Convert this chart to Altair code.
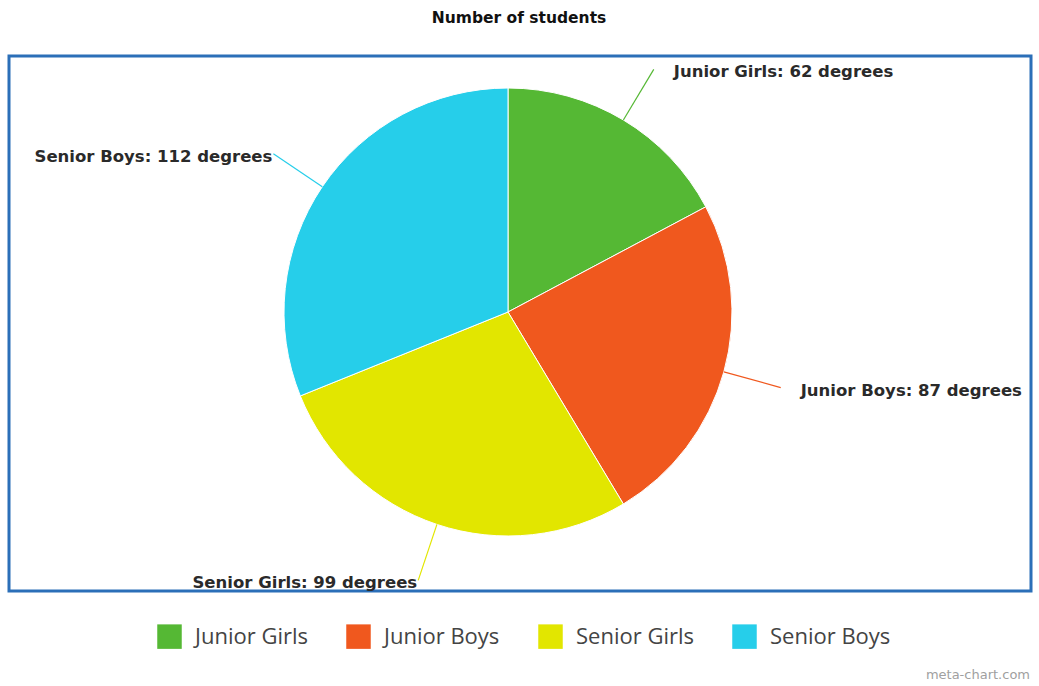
import altair as alt
import pandas as pd

categories = ["Junior Girls", "Junior Boys", "Senior Girls", "Senior Boys"]
degrees = [62, 87, 99, 112]
colors = ["#55B834", "#F0581E", "#E2E600", "#26CEEA"]

title_text = ["Number of students"]
watermark = ["meta-chart.com"]

CX, CY = 508, 312
R_PIE = 224
R_LABEL = 283

df = pd.DataFrame({"category": categories, "value": degrees, "idx": list(range(len(categories)))})

base = alt.Chart(df)

pie = base.mark_arc(radius=R_PIE, stroke="white", strokeWidth=1).encode(
    theta=alt.Theta("value:Q", stack=True),
    color=alt.Color(
        "category:N",
        scale=alt.Scale(domain=categories, range=colors),
        legend=alt.Legend(
            title=None,
            orient="none",
            legendX=157,
            legendY=624,
            direction="horizontal",
            symbolType="square",
            symbolSize=600,
            symbolStrokeWidth=0,
            symbolOpacity=1,
            labelFont="Open Sans",
            labelFontSize=22,
            labelColor="#444444",
            labelOffset=13,
            columnPadding=38,
            padding=0,
        ),
    ),
    order=alt.Order("idx:Q"),
    x=alt.value(CX),
    y=alt.value(CY),
)

geo = base.transform_window(
    cum="sum(value)", sort=[alt.SortField("idx")], frame=[None, 0]
).transform_joinaggregate(
    total="sum(value)"
).transform_calculate(
    mid="(datum.cum - datum.value/2) / datum.total * 2 * PI",
).transform_calculate(
    x0=f"{CX} + {R_PIE}*sin(datum.mid)",
    y0=f"{CY} - {R_PIE}*cos(datum.mid)",
    x1=f"{CX} + {R_LABEL}*sin(datum.mid)",
    y1=f"{CY} - {R_LABEL}*cos(datum.mid)",
    label="datum.category + ': ' + datum.value + ' degrees'",
)

lines = geo.mark_rule(strokeWidth=1.2).encode(
    x=alt.X("x0:Q", scale=None),
    y=alt.Y("y0:Q", scale=None),
    x2="x1:Q",
    y2="y1:Q",
    color=alt.Color("category:N", scale=alt.Scale(domain=categories, range=colors), legend=None),
)

label_style = dict(font="DejaVu Sans", fontSize=16.5, fontWeight="bold", color="#2a2a2a", baseline="middle")

labels_right = geo.transform_filter("datum.mid < PI").mark_text(align="left", dx=20, dy=3, **label_style).encode(
    x=alt.X("x1:Q", scale=None),
    y=alt.Y("y1:Q", scale=None),
    text="label:N",
)
labels_left = geo.transform_filter("datum.mid >= PI").mark_text(align="right", dx=-1, dy=3, **label_style).encode(
    x=alt.X("x1:Q", scale=None),
    y=alt.Y("y1:Q", scale=None),
    text="label:N",
)

border = alt.Chart(pd.DataFrame({"a": [0]})).mark_rect(
    fill=None, stroke="#2B6FB8", strokeWidth=3
).encode(x=alt.value(9), x2=alt.value(1031), y=alt.value(56), y2=alt.value(591))

title = alt.Chart(pd.DataFrame({"t": title_text})).mark_text(
    font="DejaVu Sans", fontSize=15.5, fontWeight="bold", color="#111111", align="center", baseline="middle"
).encode(x=alt.value(519), y=alt.value(18), text="t:N")

wm = alt.Chart(pd.DataFrame({"t": watermark})).mark_text(
    font="DejaVu Sans", fontSize=13, color="#A0A0A0", align="right", baseline="middle"
).encode(x=alt.value(1030), y=alt.value(675), text="t:N")

chart = alt.layer(border, pie, lines, labels_right, labels_left, title, wm).properties(
    width=1039, height=686, autosize="none", padding=0, background="white"
).configure_view(stroke=None)

chart.save("out.html", embed_options={"renderer": "svg", "actions": False})
